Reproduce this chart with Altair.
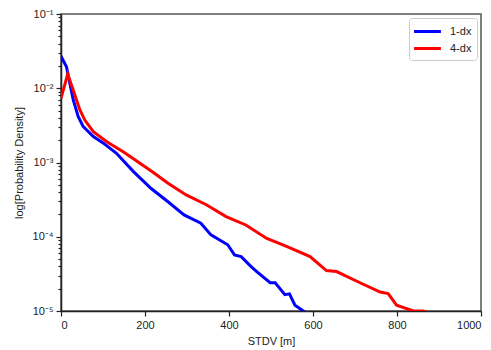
import altair as alt
import pandas as pd

blue_x = [0, 2, 13, 21, 29, 41, 53, 77, 101, 132, 172, 214, 254, 293, 333, 357, 397,
          413, 429, 452, 466, 498, 510, 533, 544, 557, 577, 590]
blue_y = [0.024, 0.0257, 0.0195, 0.0117, 0.0070, 0.00415, 0.00304, 0.00224, 0.00182,
          0.00133, 0.00076, 0.00045, 0.000298, 0.000197, 0.000152, 0.000106, 7.8e-5,
          5.7e-5, 5.4e-5, 4.0e-5, 3.4e-5, 2.4e-5, 2.4e-5, 1.66e-5, 1.7e-5, 1.2e-5,
          1.0e-5, 0.9e-5]
red_x = [0, 16, 29, 45, 57, 77, 109, 148, 188, 219, 254, 298, 346, 393, 440, 490, 537,
         593, 632, 656, 712, 760, 779, 799, 839, 862, 875]
red_y = [0.0073, 0.0155, 0.0095, 0.0051, 0.0037, 0.0026, 0.0019, 0.0014, 0.00098,
         0.00074, 0.00053, 0.000366, 0.00027, 0.000187, 0.000144, 9.5e-5, 7.4e-5,
         5.4e-5, 3.5e-5, 3.4e-5, 2.4e-5, 1.8e-5, 1.72e-5, 1.2e-5, 1.0e-5, 1.0e-5, 0.95e-5]
series = ["1-dx", "4-dx"]
colors = ["blue", "red"]
x_ticks = [0, 200, 400, 600, 800, 1000]

rows = []
for i, (x, y) in enumerate(zip(blue_x, blue_y)):
    rows.append({"x": x, "y": y, "s": series[0], "o": i})
for i, (x, y) in enumerate(zip(red_x, red_y)):
    rows.append({"x": x, "y": y, "s": series[1], "o": i})
df = pd.DataFrame(rows)

y_vals = []
for e in range(-5, -1 + 1):
    for m in range(1, 10):
        v = m * 10.0 ** e
        if v <= 0.1 + 1e-12:
            y_vals.append(float(f"{v:.10g}"))

sup = {-1: "10⁻¹", -2: "10⁻²", -3: "10⁻³", -4: "10⁻⁴", -5: "10⁻⁵"}
is_dec = "abs(log(datum.value)/LN10 - round(log(datum.value)/LN10)) < 0.001"
expr = "''"
for e, s in sup.items():
    expr = f"(round(log(datum.value)/LN10) == {e}) ? '{s}' : ({expr})"
label_expr = f"({is_dec}) ? ({expr}) : ''"

FONT = "Liberation Sans"

chart = alt.Chart(df).mark_line(strokeWidth=3, clip=True).encode(
    x=alt.X("x:Q", scale=alt.Scale(domain=[0, 1000], nice=False),
            axis=alt.Axis(values=x_ticks, format="d", title="STDV [m]", grid=False,
                          tickSize=5, labelPadding=3, titlePadding=5,
                          domainColor="#222", tickColor="#222")),
    y=alt.Y("y:Q", scale=alt.Scale(type="log", domain=[1e-5, 0.1], nice=False),
            axis=alt.Axis(values=y_vals, labelExpr=label_expr, grid=False,
                          title="log[Probability Density]",
                          tickSize={"condition": {"test": is_dec, "value": 5}, "value": 3},
                          labelPadding=3, titlePadding=8,
                          domainColor="#222", tickColor="#222")),
    color=alt.Color("s:N", scale=alt.Scale(domain=series, range=colors),
                    legend=alt.Legend(title=None, orient="none", legendX=348, legendY=4,
                                      symbolType="M-2,0H2", symbolStrokeWidth=3,
                                      symbolSize=180, symbolOffset=5,
                                      strokeColor="#ccc",
                                      cornerRadius=3, fillColor="white",
                                      padding=5, rowPadding=2, labelFontSize=11,
                                      labelOffset=14,
                                      labelFont=FONT, labelColor="#222")),
    order="o:Q",
).properties(
    width=420, height=297,
    autosize=alt.AutoSizeParams(type="none"),
    padding={"left": 61, "top": 14, "right": 10, "bottom": 39},
).configure_view(
    stroke="#555", strokeWidth=1.5
).configure_axis(
    labelFont=FONT, titleFont=FONT, labelFontSize=11, titleFontSize=11,
    titleFontWeight="normal", labelColor="#222", titleColor="#222",
    domainWidth=1.5, tickWidth=1.2
)

chart.save("out.html", embed_options={"renderer": "svg", "actions": False})
